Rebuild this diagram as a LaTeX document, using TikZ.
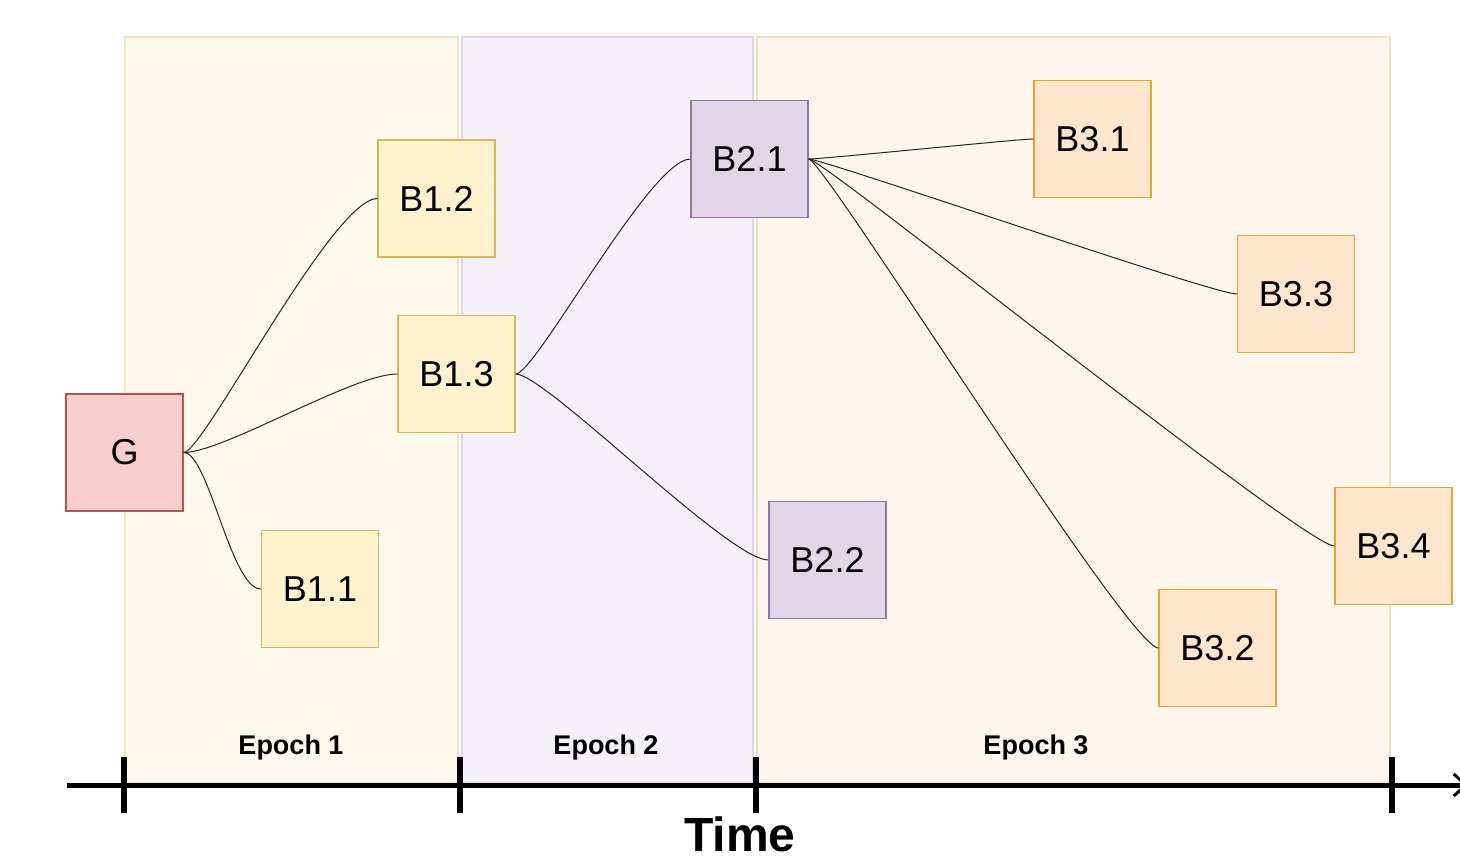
\documentclass[tikz,border=0pt]{standalone}
\usepackage{fontspec}
\setmainfont{Liberation Sans}
\usetikzlibrary{arrows.meta}
\definecolor{eaf}{HTML}{FDF9EC}\definecolor{ead}{HTML}{F2E6C2}
\definecolor{ebf}{HTML}{F4F2F8}\definecolor{ebd}{HTML}{DDD4E9}
\definecolor{ecf}{HTML}{FEF6EC}\definecolor{ecd}{HTML}{F2DFBF}
\definecolor{gf}{HTML}{F8CECC}\definecolor{gd}{HTML}{B85450}
\definecolor{yf}{HTML}{FFF2CC}\definecolor{yd}{HTML}{D6B656}
\definecolor{pf}{HTML}{E1D5E7}\definecolor{pd}{HTML}{9673A6}
\definecolor{of}{HTML}{FFE6CC}\definecolor{od}{HTML}{E0A92E}
\tikzset{
  epochbg/.style={line width=1.2pt},
  blk/.style={draw, line width=1.3pt, minimum width=117pt, minimum height=117pt, inner sep=0pt, font=\fontsize{36}{40}\selectfont},
  gblk/.style={blk, fill=gf, draw=gd},
  yblk/.style={blk, fill=yf, draw=yd},
  pblk/.style={blk, fill=pf, draw=pd},
  oblk/.style={blk, fill=of, draw=od},
  link/.style={draw=black!85, line width=1pt},
  elabel/.style={font=\bfseries\fontsize{27}{30}\selectfont},
  tick/.style={line width=6pt},
}
\begin{document}
\begin{tikzpicture}[x=1pt,y=-1pt]
\useasboundingbox (0,0) rectangle (1460,861);
% epoch backgrounds
\draw[epochbg, fill=eaf, draw=ead] (125,37) rectangle (458,783);
\draw[epochbg, fill=ebf, draw=ebd] (462,37) rectangle (753,783);
\draw[epochbg, fill=ecf, draw=ecd] (757,37) rectangle (1390,783);
% epoch labels
\node[elabel] (e1) at (291,748) {Epoch 1};
\node[elabel] (e2) at (606,748) {Epoch 2};
\node[elabel] (e3) at (1036,748) {Epoch 3};
% axis
\coordinate (axs) at (67,785);
\coordinate (axe) at (1468,785);
\draw[line width=5pt, -{Straight Barb[length=12pt,width=22pt,line width=3pt]}] (axs) -- (axe);
\foreach \x/\n in {124/t1,460/t2,756/t3,1392/t4}{
  \coordinate (\n a) at (\x,757);
  \coordinate (\n b) at (\x,813);
  \draw[tick] (\n a) -- (\n b);
}
\node[font=\bfseries\fontsize{48}{50}\selectfont, inner sep=0pt] (time) at (740,834) {Time};
% blocks
\node[gblk] (G) at (124.5,452.5) {G};
\node[yblk] (B12) at (436.5,198.5) {B1.2};
\node[yblk] (B13) at (456.5,374) {B1.3};
\node[yblk] (B11) at (320,589) {B1.1};
\node[pblk] (B21) at (749.5,159) {B2.1};
\node[pblk] (B22) at (827.5,560) {B2.2};
\node[oblk] (B31) at (1092.5,139) {B3.1};
\node[oblk] (B33) at (1296,294) {B3.3};
\node[oblk] (B34) at (1393.5,546) {B3.4};
\node[oblk] (B32) at (1217.5,648) {B3.2};
% links
\draw[link] (G.east) .. controls +(20,0) and +(-45,0) .. (B12.west);
\draw[link] (G.east) .. controls +(40,0) and +(-45,0) .. (B13.west);
\draw[link] (G.east) .. controls +(25,0) and +(-30,0) .. (B11.west);
\draw[link] (B13.east) .. controls +(20,0) and +(-40,0) .. (B21.west);
\draw[link] (B13.east) .. controls +(30,0) and +(-40,0) .. (B22.west);
\draw[link] (B21.east) .. controls +(15,0) and +(-15,0) .. (B31.west);
\draw[link] (B21.east) .. controls +(15,0) and +(-25,0) .. (B33.west);
\draw[link] (B21.east) .. controls +(15,0) and +(-30,0) .. (B34.west);
\draw[link] (B21.east) .. controls +(15,0) and +(-30,0) .. (B32.west);
\end{tikzpicture}
\end{document}
